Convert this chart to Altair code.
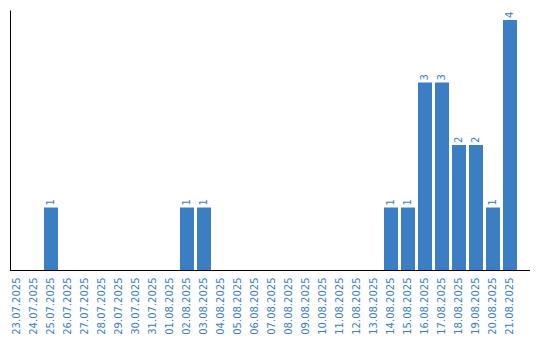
import altair as alt
import pandas as pd

dates = [
    "23.07.2025", "24.07.2025", "25.07.2025", "26.07.2025", "27.07.2025",
    "28.07.2025", "29.07.2025", "30.07.2025", "31.07.2025", "01.08.2025",
    "02.08.2025", "03.08.2025", "04.08.2025", "05.08.2025", "06.08.2025",
    "07.08.2025", "08.08.2025", "09.08.2025", "10.08.2025", "11.08.2025",
    "12.08.2025", "13.08.2025", "14.08.2025", "15.08.2025", "16.08.2025",
    "17.08.2025", "18.08.2025", "19.08.2025", "20.08.2025", "21.08.2025",
]
counts = [0, 0, 1, 0, 0, 0, 0, 0, 0, 0,
          1, 1, 0, 0, 0, 0, 0, 0, 0, 0,
          0, 0, 1, 1, 3, 3, 2, 2, 1, 4]

df = pd.DataFrame({"date": dates, "count": counts})
df_nz = df[df["count"] > 0]

BLUE = "#3b7ec3"
FONT = "DejaVu Sans"

x_enc = alt.X(
    "date:N",
    sort=None,
    scale=alt.Scale(range=[0, 507], paddingInner=3 / 17, paddingOuter=0),
    axis=alt.Axis(
        title=None, domain=False, ticks=False, labelAngle=270,
        labelAlign="right", labelBaseline="middle", labelPadding=7,
        labelColor=BLUE, labelFont=FONT, labelFontSize=10, labelOverlap=False,
        grid=False,
    ),
)
y_enc = alt.Y(
    "count:Q",
    scale=alt.Scale(domain=[0, 4.16], nice=False, zero=True),
    axis=alt.Axis(title=None, labels=False, ticks=False, grid=False,
                  domain=True, domainColor="black", domainWidth=1),
)

bars = alt.Chart(df).mark_bar(color=BLUE).encode(x=x_enc, y=y_enc)

labels = alt.Chart(df_nz).mark_text(
    angle=270, align="left", baseline="middle", dx=2,
    color=BLUE, font=FONT, fontSize=10,
).encode(x=alt.X("date:N", sort=None), y="count:Q", text="count:Q")

baseline = alt.Chart(df).mark_rule(color="black", strokeWidth=1).encode(
    x=alt.value(0), x2=alt.value(520), y=alt.value(260.5)
)

chart = (
    alt.layer(bars, labels, baseline)
    .properties(
        width=520, height=260,
        autosize=alt.AutoSizeParams(type="none"),
        padding={"left": 10, "top": 10, "right": 10, "bottom": 70},
    )
    .configure_view(strokeWidth=0)
)

chart.save("out.html", embed_options={"renderer": "svg", "actions": False})
